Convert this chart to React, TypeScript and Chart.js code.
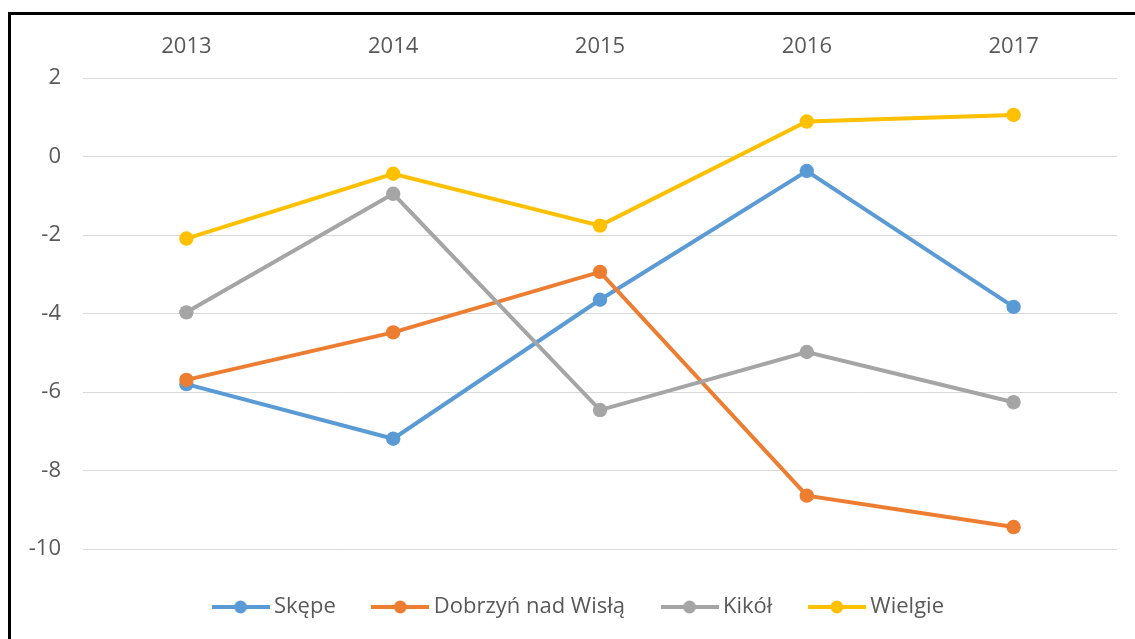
import React, { useEffect, useRef } from "react";
import { Chart, registerables } from "chart.js";

Chart.register(...registerables);

const years = ["2013", "2014", "2015", "2016", "2017"];
const skepe = [-5.8, -7.19, -3.65, -0.37, -3.83];
const dobrzyn = [-5.69, -4.48, -2.94, -8.64, -9.44];
const kikol = [-3.97, -0.95, -6.46, -4.98, -6.26];
const wielgie = [-2.09, -0.44, -1.76, 0.89, 1.06];
const seriesNames = ["Skępe", "Dobrzyń nad Wisłą", "Kikół", "Wielgie"];
const seriesColors = ["#5B9BD5", "#ED7D31", "#A5A5A5", "#FFC000"];
const yTicks = [2, 0, -2, -4, -6, -8, -10];

const FONT = "'Open Sans', 'Noto Sans', sans-serif";
const TEXT = "#595959";

function makeMarker(color: string): HTMLCanvasElement {
  const c = document.createElement("canvas");
  c.width = 58;
  c.height = 16;
  const ctx = c.getContext("2d")!;
  ctx.strokeStyle = color;
  ctx.lineWidth = 4;
  ctx.beginPath();
  ctx.moveTo(0, 8);
  ctx.lineTo(58, 8);
  ctx.stroke();
  ctx.fillStyle = color;
  ctx.beginPath();
  ctx.arc(29, 8, 6.5, 0, Math.PI * 2);
  ctx.fill();
  return c;
}

export default function App() {
  const ref = useRef<HTMLCanvasElement>(null);

  useEffect(() => {
    if (!ref.current) return;
    const values = [skepe, dobrzyn, kikol, wielgie];
    const markers = seriesColors.map(makeMarker);
    const chart = new Chart(ref.current, {
      type: "line",
      data: {
        labels: years,
        datasets: values.map((v, i) => ({
          label: seriesNames[i],
          data: v,
          borderColor: seriesColors[i],
          backgroundColor: seriesColors[i],
          borderWidth: 4,
          pointRadius: 7.2,
          pointBorderWidth: 0,
          pointBackgroundColor: seriesColors[i],
          tension: 0,
          order: 3 - i,
        })),
      },
      options: {
        responsive: false,
        animation: false,
        layout: { padding: { left: 16, right: 0, top: 0, bottom: 11 } },
        plugins: {
          tooltip: { enabled: false },
          legend: {
            position: "bottom",
            labels: {
              usePointStyle: true,
              pointStyleWidth: 45,
              padding: 42,
              color: TEXT,
              font: { family: FONT, size: 22 },
              generateLabels: (ch: any) =>
                ch.data.datasets.map((ds: any, i: number) => ({
                  text: ds.label,
                  fillStyle: ds.borderColor,
                  strokeStyle: ds.borderColor,
                  lineWidth: 0,
                  pointStyle: markers[i],
                  hidden: false,
                  datasetIndex: i,
                  fontColor: TEXT,
                })),
            },
          },
        },
        scales: {
          x: {
            position: "top",
            offset: true,
            grid: { display: false, drawTicks: false },
            border: { display: false },
            ticks: {
              color: TEXT,
              font: { family: FONT, size: 22 },
              padding: 18,
              maxRotation: 0,
            },
            afterFit: (s: any) => {
              s.height = 63;
            },
          },
          y: {
            min: -10.127,
            max: 2,
            grid: { color: "#D9D9D9", lineWidth: 1, drawTicks: false },
            border: { display: false },
            ticks: {
              stepSize: 2,
              color: TEXT,
              font: { family: FONT, size: 22 },
              padding: 22,
            },
            afterBuildTicks: (s: any) => {
              s.ticks = yTicks.slice().reverse().map((v) => ({ value: v }));
            },
            afterFit: (s: any) => {
              s.width = 56;
            },
          },
          yRight: {
            position: "right",
            min: -10.127,
            max: 2,
            grid: { display: false, drawTicks: false },
            border: { display: false },
            ticks: { display: false },
            afterFit: (s: any) => {
              s.width = 18;
            },
          },
        },
      },
    });
    return () => chart.destroy();
  }, []);

  return (
    <div style={{ position: "fixed", inset: 0, overflow: "hidden", background: "#fff" }}>
      <div
        style={{
          position: "absolute",
          left: 8,
          top: 12,
          width: 1200,
          height: 700,
          borderLeft: "3px solid #000",
          borderTop: "3px solid #000",
        }}
      >
        <canvas
          ref={ref}
          width={1124}
          height={624}
          style={{ display: "block", width: 1124, height: 624 }}
        />
      </div>
    </div>
  );
}
